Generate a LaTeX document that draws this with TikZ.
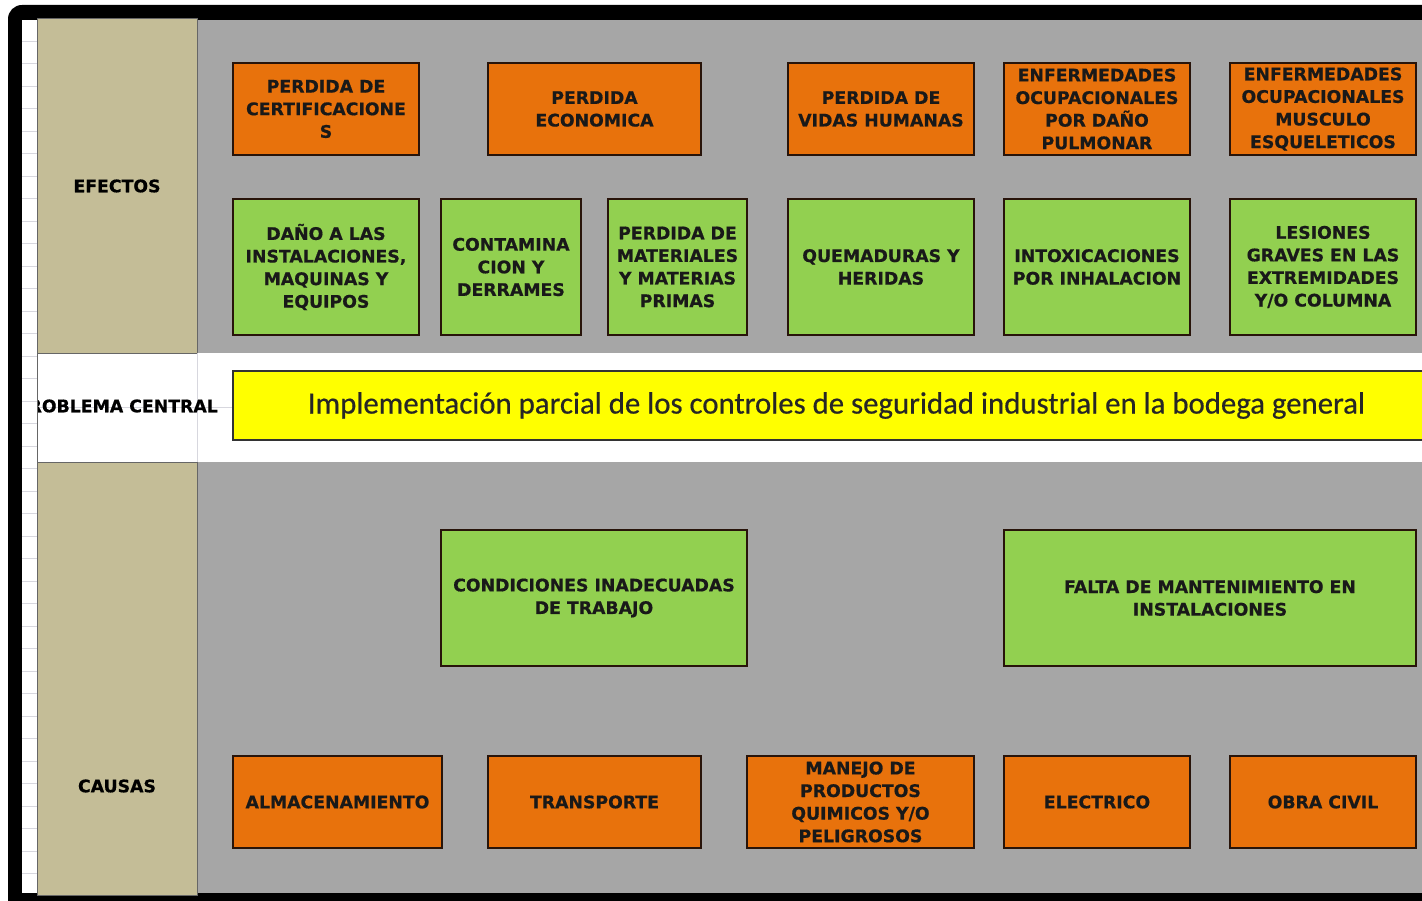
\documentclass[tikz,border=0pt]{standalone}
\usepackage{fontspec}
\setsansfont{DejaVu Sans}
\newfontfamily\boxfont{DejaVu Sans Bold}[FakeBold=0.6]
\newfontfamily\calfont{Carlito}[FakeBold=0.5]
\definecolor{bggray}{RGB}{166,166,166}
\definecolor{tan}{RGB}{196,189,151}
\definecolor{orangebox}{RGB}{232,114,12}
\definecolor{greenbox}{RGB}{146,208,80}
\definecolor{yellowbox}{RGB}{255,255,0}
\definecolor{edge}{RGB}{40,20,10}
\definecolor{grid}{RGB}{215,215,222}
\tikzset{
  boxbase/.style={draw=edge, line width=1.6pt, inner sep=0pt, align=center,
    font=\boxfont\fontsize{17.3}{22.6}\selectfont, text=black!90},
  obox/.style={boxbase, fill=orangebox},
  gbox/.style={boxbase, fill=greenbox},
  ybox/.style={draw=black!80, line width=1.6pt, fill=yellowbox, inner sep=0pt,
    font=\calfont\fontsize{30.8}{34}\selectfont, text=black!85},
  sidelabel/.style={inner sep=0pt, font=\boxfont\fontsize{17.3}{20}\selectfont}
}
\begin{document}
\begin{tikzpicture}[x=1pt,y=-1pt]
\useasboundingbox (0,0) rectangle (1422,901);
\clip (0,0) rectangle (1422,901);
\fill[white] (0,0) rectangle (1422,901);
% black frame
\fill[black, rounded corners=14pt] (8,5) rectangle (1460,940);
% interior background
\fill[white] (22,20) rectangle (1422,893);
% spreadsheet row header gridlines
\foreach \yy in {41,63.5,86,108.5,131,153.5,176,198.5,221,243.5,266,288.5,311,333.5,356,378.5,401,423.5,446,468.5,491,513.5,536,558.5,581,603.5,626,648.5,671,693.5,716,738.5,761,783.5,806,828.5,851,873.5}
  \draw[grid, line width=0.6pt] (22,\yy) -- (37,\yy);
% gray regions
\fill[bggray] (197,20) rectangle (1422,353);
\fill[bggray] (197,462) rectangle (1422,893);
% tan column
\filldraw[fill=tan, draw=black!60, line width=0.8pt] (37,18) rectangle (197,353);
\filldraw[fill=tan, draw=black!60, line width=0.8pt] (37,462) rectangle (197,895);
% white band grid lines
\draw[grid, line width=0.6pt] (37,407.5) -- (233,407.5);
\draw[grid, line width=0.6pt] (197,353) -- (197,462);

% side labels
\node[sidelabel] (efectos) at (117,186) {EFECTOS};
\node[sidelabel] (causas) at (117,786) {CAUSAS};
\begin{scope}
  \clip (37,360) rectangle (232,455);
  \node[sidelabel, anchor=east] (problema) at (218,406) {PROBLEMA CENTRAL};
\end{scope}
\draw[black!60, line width=0.8pt] (37,353) -- (37,462);

% effects - top row (orange)
\node[obox, minimum width=186pt, minimum height=92pt] (o1) at (326,109) {PERDIDA DE\\CERTIFICACIONE\\S};
\node[obox, minimum width=213pt, minimum height=92pt] (o2) at (594.5,109) {PERDIDA\\ECONOMICA};
\node[obox, minimum width=186pt, minimum height=92pt] (o3) at (881,109) {PERDIDA DE\\VIDAS HUMANAS};
\node[obox, minimum width=186pt, minimum height=92pt] (o4) at (1097,109) {ENFERMEDADES\\OCUPACIONALES\\POR DAÑO\\PULMONAR};
\node[obox, minimum width=186pt, minimum height=92pt] (o5) at (1323,109) {ENFERMEDADES\\OCUPACIONALES\\MUSCULO\\ESQUELETICOS};

% effects - second row (green)
\node[gbox, minimum width=186pt, minimum height=136pt] (g1) at (326,267) {DAÑO A LAS\\INSTALACIONES,\\MAQUINAS Y\\EQUIPOS};
\node[gbox, minimum width=140pt, minimum height=136pt] (g2) at (511,267) {CONTAMINA\\CION Y\\DERRAMES};
\node[gbox, minimum width=139pt, minimum height=136pt] (g3) at (677.5,267) {PERDIDA DE\\MATERIALES\\Y MATERIAS\\PRIMAS};
\node[gbox, minimum width=186pt, minimum height=136pt] (g4) at (881,267) {QUEMADURAS Y\\HERIDAS};
\node[gbox, minimum width=186pt, minimum height=136pt] (g5) at (1097,267) {INTOXICACIONES\\POR INHALACION};
\node[gbox, minimum width=186pt, minimum height=136pt] (g6) at (1323,267) {LESIONES\\GRAVES EN LAS\\EXTREMIDADES\\Y/O COLUMNA};

% central problem
\node[ybox, minimum width=1207pt, minimum height=69pt] (central) at (836.5,405.5) {\raisebox{-2.5pt}{Implementación parcial de los controles de seguridad industrial en la bodega general}};

% causes - green
\node[gbox, minimum width=306pt, minimum height=136pt] (c1) at (594,598) {CONDICIONES INADECUADAS\\DE TRABAJO};
\node[gbox, minimum width=412pt, minimum height=136pt] (c2) at (1210,598) {FALTA DE MANTENIMIENTO EN\\INSTALACIONES};

% causes - orange
\node[obox, minimum width=209pt, minimum height=92pt] (b1) at (337.5,802) {ALMACENAMIENTO};
\node[obox, minimum width=213pt, minimum height=92pt] (b2) at (594.5,802) {TRANSPORTE};
\node[obox, minimum width=227pt, minimum height=92pt] (b3) at (860.5,802) {MANEJO DE\\PRODUCTOS\\QUIMICOS Y/O\\PELIGROSOS};
\node[obox, minimum width=186pt, minimum height=92pt] (b4) at (1097,802) {ELECTRICO};
\node[obox, minimum width=186pt, minimum height=92pt] (b5) at (1323,802) {OBRA CIVIL};
\end{tikzpicture}
\end{document}
